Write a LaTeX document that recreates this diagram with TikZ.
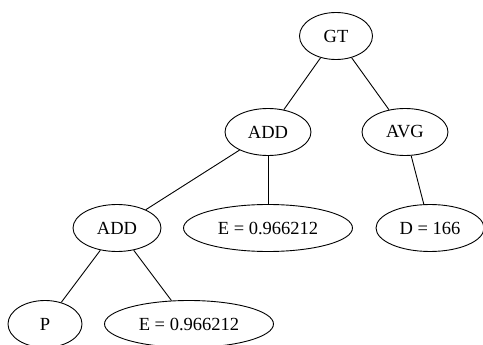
\documentclass[tikz,border=0pt]{standalone}
\usepackage{fontspec}
\setmainfont{Liberation Serif}
\usetikzlibrary{shapes.geometric}
\begin{document}
\begin{tikzpicture}[x=1pt,y=-1pt,
  nd/.style={draw,ellipse,line width=0.9pt,inner sep=0pt,minimum height=47pt,font=\fontsize{18.5}{22}\selectfont},
  edge/.style={line width=0.9pt}]
\useasboundingbox (0,0) rectangle (483,345);
\clip (0,0) rectangle (483,345);
\node[nd,minimum width=73pt] (gt) at (336,36) {GT};
\node[nd,minimum width=86pt] (add1) at (268,132) {ADD};
\node[nd,minimum width=86pt] (avg) at (405,132) {AVG};
\node[nd,minimum width=88pt] (add2) at (117,228) {ADD};
\node[nd,minimum width=169pt] (e1) at (268,228) {E = 0.966212};
\node[nd,minimum width=108pt] (d) at (430,228) {D = 166};
\node[nd,minimum width=74pt] (p) at (45,324) {P};
\node[nd,minimum width=169pt] (e2) at (189,324) {E = 0.966212};
\draw[edge] (gt) -- (add1);
\draw[edge] (gt) -- (avg);
\draw[edge] (add1) -- (add2);
\draw[edge] (add1) -- (e1);
\draw[edge] (avg) -- (d);
\draw[edge] (add2) -- (p);
\draw[edge] (add2) -- (e2);
\end{tikzpicture}
\end{document}
